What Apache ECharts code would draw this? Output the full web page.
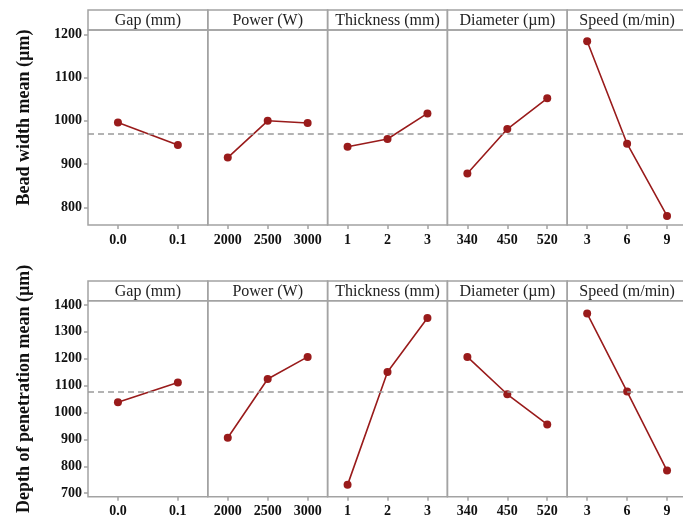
<!DOCTYPE html>
<html>
<head>
<meta charset="utf-8">
<script src="https://cdn.jsdelivr.net/npm/echarts@6/dist/echarts.min.js"></script>
<style>
  html, body { margin: 0; padding: 0; background: #fff; }
  #chart { width: 683px; height: 522px; }
</style>
</head>
<body>
<div id="chart"></div>
<script>
/* ----------------------------  data  ---------------------------- */
const factorNames = ['Gap (mm)', 'Power (W)', 'Thickness (mm)', 'Diameter (µm)', 'Speed (m/min)'];
const gapLevels = ['0.0', '0.1'];
const powerLevels = ['2000', '2500', '3000'];
const thicknessLevels = ['1', '2', '3'];
const diameterLevels = ['340', '450', '520'];
const speedLevels = ['3', '6', '9'];

const beadGap = [996, 944];
const beadPower = [915, 1000, 995];
const beadThickness = [940, 958, 1017];
const beadDiameter = [878, 981, 1052];
const beadSpeed = [1184, 947, 780];
const beadMean = 970.6;
const beadTicks = [800, 900, 1000, 1100, 1200];

const depthGap = [1038, 1112];
const depthPower = [906, 1125, 1207];
const depthThickness = [731, 1151, 1352];
const depthDiameter = [1207, 1068, 956];
const depthSpeed = [1368, 1078, 784];
const depthMean = 1078;
const depthTicks = [700, 800, 900, 1000, 1100, 1200, 1300, 1400];

/* ----------------------------  layout  ---------------------------- */
const levels = [gapLevels, powerLevels, thicknessLevels, diameterLevels, speedLevels];
const rows = [
  {
    title: 'Bead width mean (µm)',
    values: [beadGap, beadPower, beadThickness, beadDiameter, beadSpeed],
    mean: beadMean, ticks: beadTicks,
    headTop: 10, plotTop: 30, plotBottom: 225, min: 759, max: 1210,
  },
  {
    title: 'Depth of penetration mean (µm)',
    values: [depthGap, depthPower, depthThickness, depthDiameter, depthSpeed],
    mean: depthMean, ticks: depthTicks,
    headTop: 281, plotTop: 300.7, plotBottom: 496.7, min: 687, max: 1416,
  },
];
const left0 = 88;
const panelW = 119.8;
const frameColor = '#a3a3a3';
const lineColor = '#991b1b';
const serif = "'Liberation Serif', 'DejaVu Serif', serif";

const grid = [], xAxis = [], yAxis = [], series = [], graphic = [];

rows.forEach((row, r) => {
  // rotated y title, centred on the frame incl. header
  graphic.push({
    type: 'text',
    x: 24,
    y: (row.headTop + row.plotBottom) / 2,
    rotation: Math.PI / 2,
    style: {
      text: row.title,
      x: 0, y: 0,
      align: 'center', verticalAlign: 'middle',
      font: `bold 18px ${serif}`,
      fill: '#111',
    },
  });

  factorNames.forEach((name, i) => {
    const idx = r * 5 + i;
    const left = left0 + i * panelW;

    // header strip
    graphic.push({
      type: 'rect',
      shape: { x: left, y: row.headTop, width: panelW, height: row.plotTop - row.headTop },
      style: { fill: 'none', stroke: frameColor, lineWidth: 1.5 },
    });
    graphic.push({
      type: 'text',
      x: left + panelW / 2,
      y: (row.headTop + row.plotTop) / 2 + 1,
      style: {
        text: name,
        align: 'center', verticalAlign: 'middle',
        font: `16px ${serif}`,
        fill: '#222',
      },
    });

    grid.push({
      left: left,
      top: row.plotTop,
      width: panelW,
      height: row.plotBottom - row.plotTop,
      outerBoundsMode: 'none',
      containLabel: false,
      show: true,
      borderColor: frameColor,
      borderWidth: 1.5,
      backgroundColor: 'transparent',
    });

    xAxis.push({
      type: 'category',
      gridIndex: idx,
      data: levels[i],
      boundaryGap: true,
      axisLine: { show: false },
      axisTick: { show: true, alignWithLabel: true, length: 4, lineStyle: { color: frameColor, width: 1.5 } },
      axisLabel: { margin: 8, color: '#111', fontWeight: 'bold', fontSize: 14, fontFamily: serif },
      splitLine: { show: false },
    });

    yAxis.push({
      type: 'value',
      gridIndex: idx,
      min: row.min,
      max: row.max,
      axisLine: { show: false },
      splitLine: { show: false },
      axisTick: {
        show: i === 0, length: 4, customValues: row.ticks,
        lineStyle: { color: frameColor, width: 1.5 },
      },
      axisLabel: {
        show: i === 0, customValues: row.ticks, margin: 6,
        formatter: (v) => String(v),
        color: '#111', fontWeight: 'bold', fontSize: 14, fontFamily: serif,
      },
    });

    series.push({
      type: 'line',
      xAxisIndex: idx,
      yAxisIndex: idx,
      data: row.values[i],
      symbol: 'circle',
      symbolSize: 8,
      itemStyle: { color: lineColor },
      lineStyle: { color: lineColor, width: 1.6 },
      silent: true,
      markLine: {
        silent: true,
        symbol: ['none', 'none'],
        label: { show: false },
        lineStyle: { color: '#9a9a9a', type: [6, 4], width: 1.5 },
        data: [{ yAxis: row.mean }],
      },
      z: 3,
    });
  });
});

const chart = echarts.init(document.getElementById('chart'), null, { renderer: 'canvas' });
chart.setOption({
  animation: false,
  backgroundColor: '#fff',
  grid, xAxis, yAxis, series, graphic,
});
</script>
</body>
</html>
